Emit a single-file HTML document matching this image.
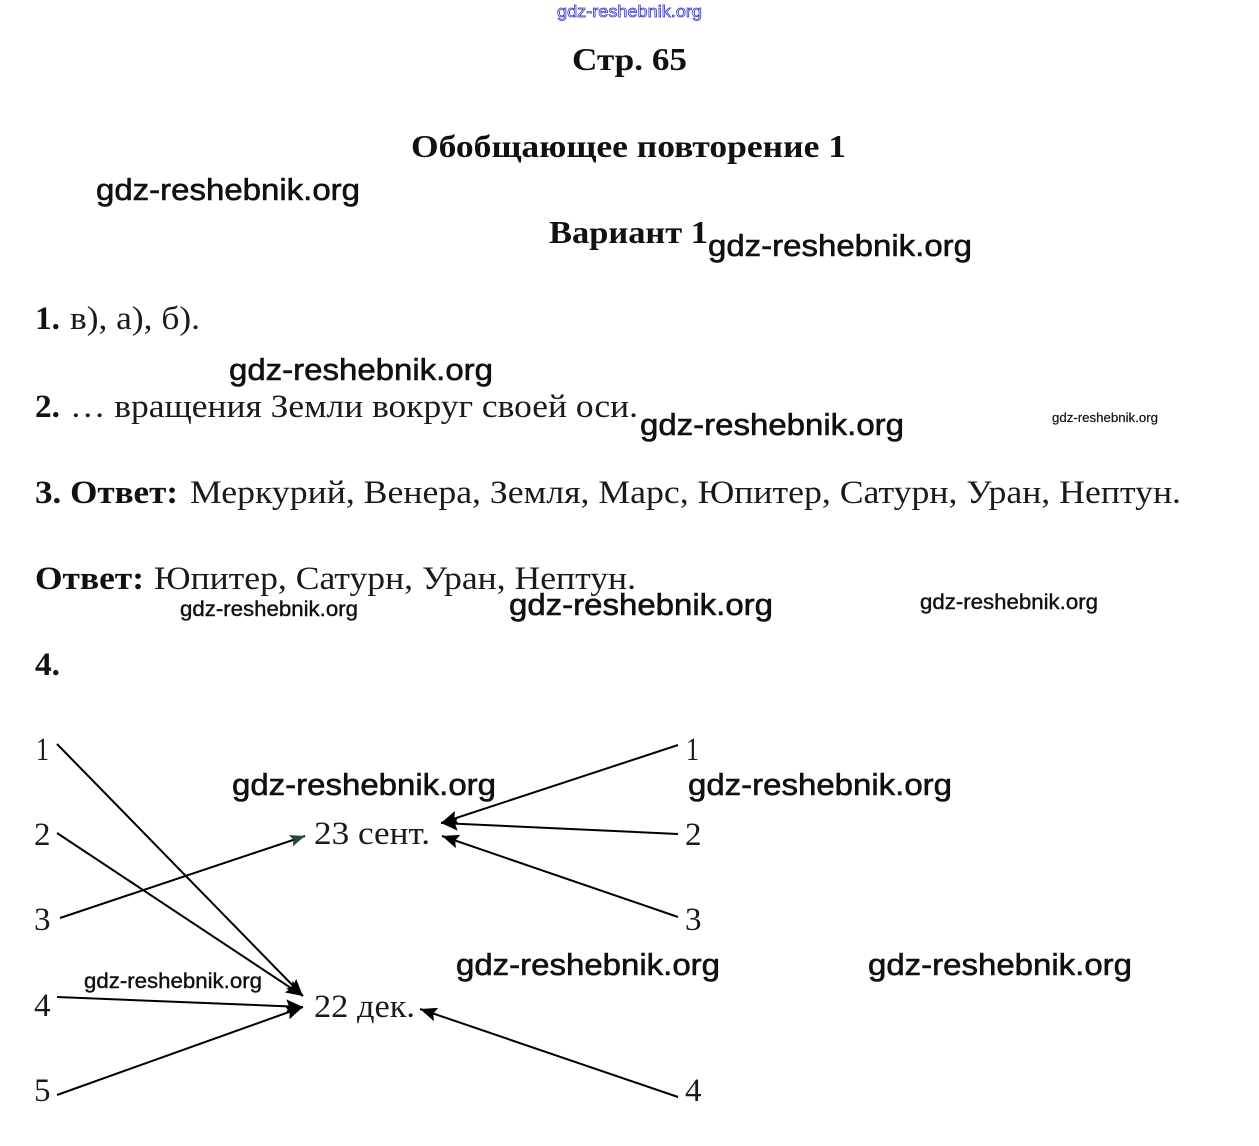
<!DOCTYPE html>
<html>
<head>
<meta charset="utf-8">
<style>
  html,body{margin:0;padding:0;background:#fff;}
  body{width:1259px;height:1146px;overflow:hidden;}
  svg{display:block;}
  .tb{font-family:"Liberation Serif","Noto Serif CJK SC",serif;font-weight:bold;fill:#111;}
  .tn{font-family:"Liberation Serif","Noto Serif CJK SC",serif;font-weight:normal;fill:#1a1a1a;}
  .wm{font-family:"Liberation Sans","DejaVu Sans",sans-serif;fill:#111;stroke:#111;stroke-width:0.6;}
</style>
</head>
<body>
<svg width="1259" height="1146" viewBox="0 0 1259 1146" xmlns="http://www.w3.org/2000/svg">
  <defs>
    <marker id="ah" markerUnits="userSpaceOnUse" markerWidth="18" markerHeight="14" refX="17" refY="7" orient="auto">
      <path d="M0,0 L17,7 L0,14 L3,7 z" fill="#000"/>
    </marker>
    <marker id="ahg" markerUnits="userSpaceOnUse" markerWidth="16" markerHeight="12" refX="15" refY="6" orient="auto">
      <path d="M0,0 L15,6 L0,12 L3,6 z" fill="#1e4a3c"/>
    </marker>
  </defs>

  <!-- top blue outline watermark -->
  <text x="557" y="17" textLength="145" lengthAdjust="spacingAndGlyphs" font-family="Liberation Sans, sans-serif" font-size="17" fill="#fff" stroke="#3a3acc" stroke-width="0.8">gdz-reshebnik.org</text>

  <!-- headings -->
  <text class="tb" x="572" y="70" font-size="32" textLength="115" lengthAdjust="spacingAndGlyphs">Стр. 65</text>
  <text class="tb" x="411" y="157" font-size="32" textLength="435" lengthAdjust="spacingAndGlyphs">Обобщающее повторение 1</text>
  <text class="tb" x="549" y="243" font-size="32" textLength="159" lengthAdjust="spacingAndGlyphs">Вариант 1</text>

  <!-- body lines -->
  <text class="tb" x="35" y="329" font-size="33" textLength="25" lengthAdjust="spacingAndGlyphs">1.</text>
  <text class="tn" x="70" y="329" font-size="33" textLength="130" lengthAdjust="spacingAndGlyphs">в), а), б).</text>

  <text class="tb" x="35" y="417" font-size="33" textLength="25" lengthAdjust="spacingAndGlyphs">2.</text>
  <text class="tn" x="70" y="417" font-size="33" textLength="568" lengthAdjust="spacingAndGlyphs">… вращения Земли вокруг своей оси.</text>

  <text class="tb" x="35" y="503" font-size="33" textLength="143" lengthAdjust="spacingAndGlyphs">3. Ответ:</text>
  <text class="tn" x="190" y="503" font-size="33" textLength="991" lengthAdjust="spacingAndGlyphs">Меркурий, Венера, Земля, Марс, Юпитер, Сатурн, Уран, Нептун.</text>

  <text class="tb" x="35" y="589" font-size="33" textLength="109" lengthAdjust="spacingAndGlyphs">Ответ:</text>
  <text class="tn" x="154" y="589" font-size="33" textLength="482" lengthAdjust="spacingAndGlyphs">Юпитер, Сатурн, Уран, Нептун.</text>

  <text class="tb" x="35" y="675" font-size="33" textLength="25" lengthAdjust="spacingAndGlyphs">4.</text>

  <!-- diagram labels -->
  <g class="tn" font-size="33">
    <text x="36" y="760" textLength="13" lengthAdjust="spacingAndGlyphs">1</text>
    <text x="34" y="845">2</text>
    <text x="34" y="930">3</text>
    <text x="34" y="1016">4</text>
    <text x="34" y="1101">5</text>
    <text x="686" y="760" textLength="13" lengthAdjust="spacingAndGlyphs">1</text>
    <text x="685" y="845">2</text>
    <text x="685" y="930">3</text>
    <text x="685" y="1101">4</text>
    <text x="314" y="844" textLength="116" lengthAdjust="spacingAndGlyphs">23 сент.</text>
    <text x="314" y="1017" textLength="101" lengthAdjust="spacingAndGlyphs">22 дек.</text>
  </g>

  <!-- connectors -->
  <g stroke="#000" stroke-width="2" fill="none">
    <line x1="57" y1="744" x2="303" y2="996" marker-end="url(#ah)"/>
    <line x1="57" y1="833" x2="303" y2="996" marker-end="url(#ah)"/>
    <line x1="60" y1="918" x2="305" y2="836" marker-end="url(#ahg)"/>
    <line x1="57" y1="997" x2="303" y2="1007" marker-end="url(#ah)"/>
    <line x1="57" y1="1095" x2="303" y2="1007" marker-end="url(#ah)"/>

    <line x1="678" y1="745" x2="441" y2="823" marker-end="url(#ah)"/>
    <line x1="678" y1="834" x2="441" y2="823" marker-end="url(#ah)"/>
    <line x1="678" y1="917" x2="442" y2="836" marker-end="url(#ah)"/>
    <line x1="678" y1="1097" x2="420" y2="1009" marker-end="url(#ah)"/>
  </g>

  <!-- watermarks large -->
  <g class="wm" font-size="31">
    <text x="96" y="200" textLength="264" lengthAdjust="spacingAndGlyphs">gdz-reshebnik.org</text>
    <text x="708" y="256" textLength="264" lengthAdjust="spacingAndGlyphs">gdz-reshebnik.org</text>
    <text x="229" y="380" textLength="264" lengthAdjust="spacingAndGlyphs">gdz-reshebnik.org</text>
    <text x="640" y="435" textLength="264" lengthAdjust="spacingAndGlyphs">gdz-reshebnik.org</text>
    <text x="509" y="615" textLength="264" lengthAdjust="spacingAndGlyphs">gdz-reshebnik.org</text>
    <text x="232" y="795" textLength="264" lengthAdjust="spacingAndGlyphs">gdz-reshebnik.org</text>
    <text x="688" y="795" textLength="264" lengthAdjust="spacingAndGlyphs">gdz-reshebnik.org</text>
    <text x="456" y="975" textLength="264" lengthAdjust="spacingAndGlyphs">gdz-reshebnik.org</text>
    <text x="868" y="975" textLength="264" lengthAdjust="spacingAndGlyphs">gdz-reshebnik.org</text>
  </g>
  <!-- watermarks small -->
  <g class="wm" font-size="21" style="stroke-width:0.4">
    <text x="180" y="616" textLength="178" lengthAdjust="spacingAndGlyphs">gdz-reshebnik.org</text>
    <text x="920" y="609" textLength="178" lengthAdjust="spacingAndGlyphs">gdz-reshebnik.org</text>
    <text x="84" y="988" textLength="178" lengthAdjust="spacingAndGlyphs">gdz-reshebnik.org</text>
  </g>
  <text class="wm" x="1052" y="422" font-size="13" style="stroke-width:0.2" textLength="106" lengthAdjust="spacingAndGlyphs">gdz-reshebnik.org</text>
</svg>
</body>
</html>
